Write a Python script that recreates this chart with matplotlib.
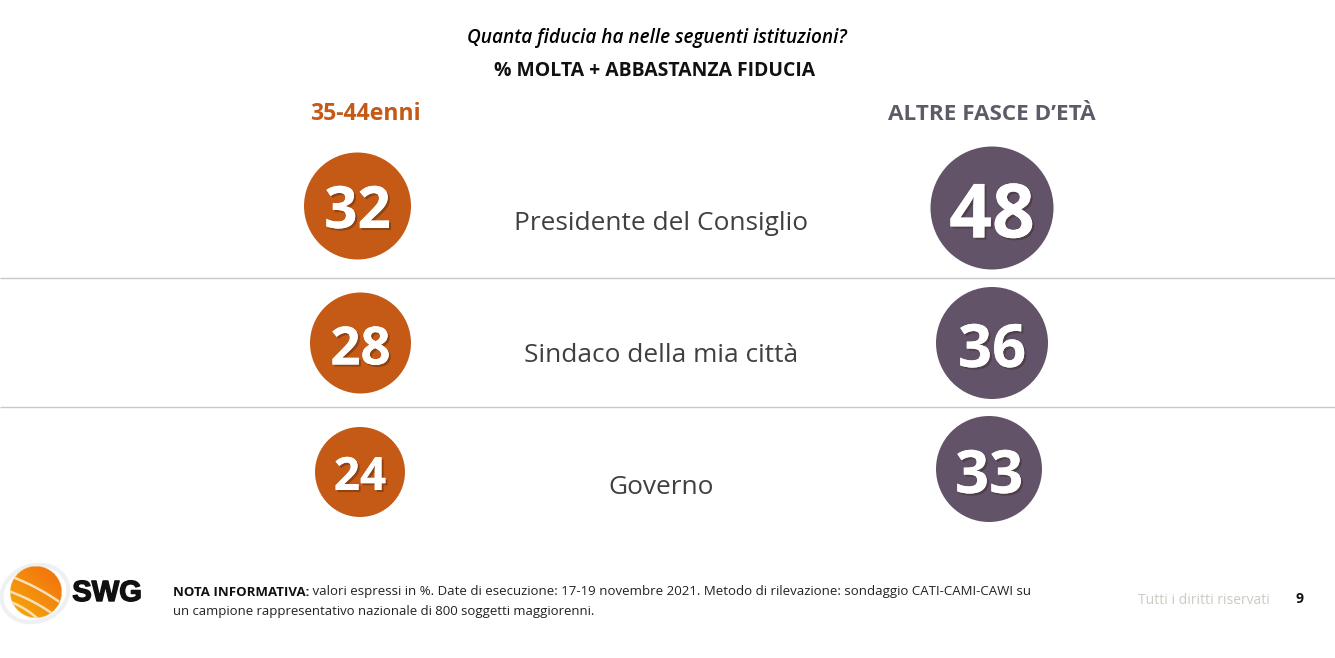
import numpy as np
import matplotlib
matplotlib.use("Agg")
import matplotlib.pyplot as plt
from matplotlib.patches import Circle, Ellipse
import matplotlib.patheffects as pe

# ---- data ----
institutions = ["Presidente del Consiglio", "Sindaco della mia città", "Governo"]
age_35_44 = [32, 28, 24]
other_ages = [48, 36, 33]
group_labels = ["35-44enni", "ALTRE FASCE D’ETÀ"]
question = "Quanta fiducia ha nelle seguenti istituzioni?"
subtitle = "% MOLTA + ABBASTANZA FIDUCIA"
note_bold = "NOTA INFORMATIVA:"
note_1 = " valori espressi in %. Date di esecuzione: 17-19 novembre 2021. Metodo di rilevazione: sondaggio CATI-CAMI-CAWI su"
note_2 = "un campione rappresentativo nazionale di 800 soggetti maggiorenni."
footer = "Tutti i diritti riservati"
page = "9"

# ---- layout (pixels) ----
W, H = 1335, 658
ORANGE, PURPLE = "#C55A16", "#635368"
left_xy = [(357.5, 206), (360.5, 343), (360, 472)]
left_r = [53.5, 50.5, 45]
right_xy = [(992, 208), (992, 343), (989, 469)]
right_r = [61.5, 56, 53]
num_left_y = [206, 344, 472]
num_right_y = [209, 344, 470]
num_left_fs = [42, 38, 33]
num_right_fs = [54, 43, 43]
label_y = [224, 355, 487]
rules_y = [278, 407]
FONT = "Open Sans"

fig = plt.figure(figsize=(W / 100, H / 100), dpi=100, facecolor="white")
ax = fig.add_axes([0, 0, 1, 1])
ax.set_xlim(0, W)
ax.set_ylim(H, 0)
ax.axis("off")
plt.rcParams["font.family"] = [FONT, "DejaVu Sans"]


def number(x, y, val, fs):
    t = ax.text(x, y, str(val), color="white", fontsize=fs, fontweight="bold",
                ha="center", va="center_baseline", zorder=4)
    t.set_path_effects([pe.withSimplePatchShadow(offset=(1.5, -1.5), shadow_rgbFace="#2b1a10",
                                                 alpha=0.35), pe.Normal()])


ax.text(657, 38, question, fontsize=13.7, style="italic", fontweight="semibold",
        color="black", ha="center", va="center", family="Open Sans")
ax.text(655, 70.5, subtitle, fontsize=13.95, fontweight="bold", color="#111111",
        ha="center", va="center")
ax.text(365.5, 114, group_labels[0], fontsize=16.6, fontweight="bold", color=ORANGE,
        ha="center", va="center")
ax.text(992, 114, group_labels[1], fontsize=16.2, fontweight="bold", color="#5F5A68",
        ha="center", va="center")

for y in rules_y:
    ax.plot([0, W], [y, y], color="#C8C8C8", lw=1, solid_capstyle="butt")

for i, name in enumerate(institutions):
    ax.add_patch(Circle(left_xy[i], left_r[i], fc=ORANGE, ec="none", zorder=2))
    ax.add_patch(Circle(right_xy[i], right_r[i], fc=PURPLE, ec="none", zorder=2))
    number(left_xy[i][0], num_left_y[i], age_35_44[i], num_left_fs[i])
    number(right_xy[i][0], num_right_y[i], other_ages[i], num_right_fs[i])
    ax.text(661, label_y[i], name, fontsize=18.9, color="#404040", ha="center", va="center")

# footer note
NOTE_FS = 9.55
nb = ax.text(173, 592, note_bold, fontsize=NOTE_FS, fontweight="bold", color="#111111",
             ha="left", va="center")
fig.canvas.draw()
bb = nb.get_window_extent()
ax.text(bb.x1, 592, note_1, fontsize=NOTE_FS, color="#222222", ha="left", va="center")
ax.text(173, 611, note_2, fontsize=9.45, color="#222222", ha="left", va="center")
ax.text(1204, 601, footer, fontsize=10, color="#C9CCC2", ha="center", va="center")
ax.text(1300, 599, page, fontsize=10, fontweight="bold", color="#111111", ha="center", va="center")

# logo
lx, ly, lr = 36, 592.5, 26
ax.add_patch(Ellipse((lx - 1, ly + 1), 68, 56, angle=-20, fc="none", ec="#EEF1F3", lw=3, zorder=1))
yy, xx = np.mgrid[-1:1:120j, -1:1:120j]
grad = np.clip((xx * 0.6 - yy * 0.7 + 1) / 2, 0, 1)
rgba = np.zeros((120, 120, 4))
rgba[..., 0] = 0.95
rgba[..., 1] = 0.45 + 0.2 * (1 - grad)
rgba[..., 2] = 0.05
rgba[..., 3] = (xx ** 2 + yy ** 2 <= 1).astype(float)
ax.imshow(rgba, extent=(lx - lr, lx + lr, ly + lr, ly - lr), zorder=2, aspect="auto",
          interpolation="bilinear")
ax.set_xlim(0, W)
ax.set_ylim(H, 0)
clip = Circle((lx, ly), lr, transform=ax.transData)
for (x0, y0, x1, y1) in [(15, 578, 58, 601), (11, 592, 50, 612), (11, 602, 38, 619)]:
    t = np.linspace(0, 1, 30)
    mx, my = (x0 + x1) / 2 + 2, (y0 + y1) / 2 - 2
    bx = (1 - t) ** 2 * x0 + 2 * t * (1 - t) * mx + t ** 2 * x1
    by = (1 - t) ** 2 * y0 + 2 * t * (1 - t) * my + t ** 2 * y1
    line, = ax.plot(bx, by, color="#FBDDB8", lw=1.8, zorder=3)
    line.set_clip_path(clip)
ax.text(107, 593, "SWG", fontsize=21, fontweight="bold", color="#111111", ha="center",
        va="center", family="Liberation Sans",
        path_effects=[pe.withStroke(linewidth=1, foreground="#111111")])

fig.savefig("out.png", dpi=100, facecolor="white")
